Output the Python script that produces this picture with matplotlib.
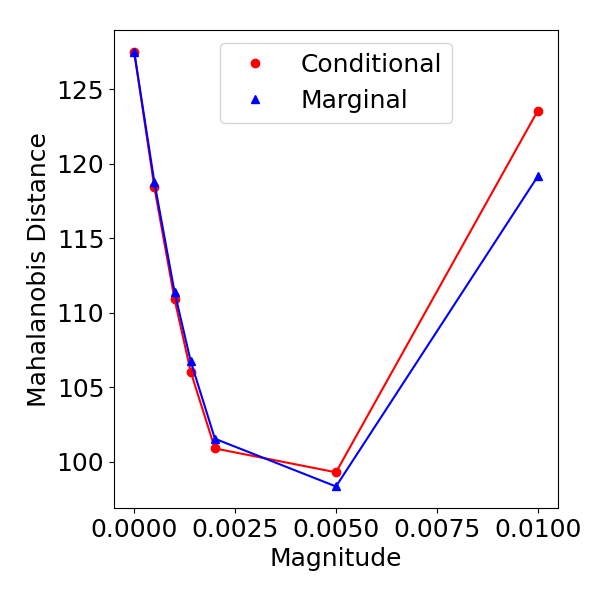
import matplotlib
matplotlib.use("Agg")
import matplotlib.pyplot as plt

magnitude = [0.0, 0.0005, 0.001, 0.0014, 0.002, 0.005, 0.01]
conditional = [127.5, 118.4, 110.9, 106.05, 100.9, 99.3, 123.55]
marginal = [127.5, 118.75, 111.4, 106.75, 101.55, 98.35, 119.15]

plt.rcParams["font.size"] = 18

fig, ax = plt.subplots(figsize=(6, 6), dpi=100)
ax.plot(magnitude, conditional, color="red")
ax.plot(magnitude, conditional, "o", color="red", label="Conditional")
ax.plot(magnitude, marginal, color="blue")
ax.plot(magnitude, marginal, "^", color="blue", label="Marginal")
ax.set_xlabel("Magnitude")
ax.set_ylabel("Mahalanobis Distance")
ax.legend(loc="upper center")
fig.subplots_adjust(left=0.19, right=0.93, top=0.95, bottom=0.153)
fig.savefig("out.png")
